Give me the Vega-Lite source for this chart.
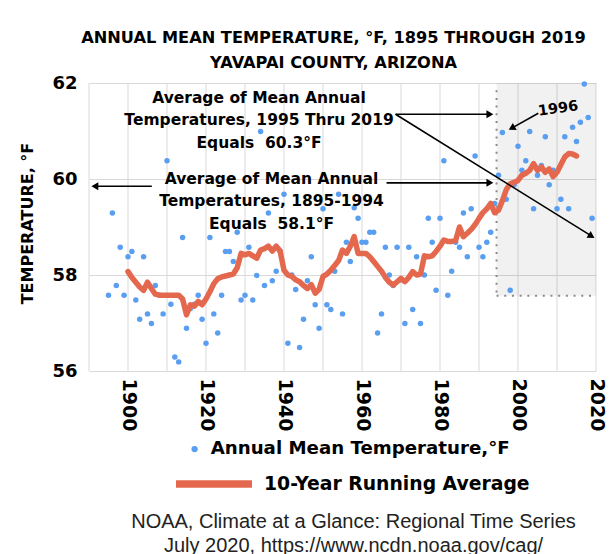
{
  "$schema": "https://vega.github.io/schema/vega-lite/v6.json",
  "width": 507,
  "height": 288,
  "autosize": {"type": "none"},
  "padding": {"left": 89, "top": 83, "right": 20, "bottom": 183},
  "background": "white",
  "data": {"values": [{}]},
  "title": {
    "text": ["ANNUAL MEAN TEMPERATURE, °F, 1895 THROUGH 2019", "YAVAPAI COUNTY, ARIZONA"],
    "font": "DejaVu Sans", "fontSize": 16.2, "fontWeight": "bold", "color": "black",
    "lineHeight": 25, "anchor": "middle", "frame": "group", "offset": 3, "dx": -9
  },
  "datasets": {
    "decades": [
      {"year": 1890}, {"year": 1900}, {"year": 1910}, {"year": 1920}, {"year": 1930}, {"year": 1940}, {"year": 1950},
      {"year": 1960}, {"year": 1970}, {"year": 1980}, {"year": 1990}, {"year": 2000}, {"year": 2010}, {"year": 2020}
    ],
    "temps": [
      {"year": 1895, "temp": 57.58}, {"year": 1896, "temp": 59.29}, {"year": 1897, "temp": 57.78}, {"year": 1898, "temp": 58.58}, {"year": 1899, "temp": 57.58},
      {"year": 1900, "temp": 58.38}, {"year": 1901, "temp": 58.49}, {"year": 1902, "temp": 57.48}, {"year": 1903, "temp": 57.08}, {"year": 1904, "temp": 58.38},
      {"year": 1905, "temp": 57.19}, {"year": 1906, "temp": 56.99}, {"year": 1907, "temp": 57.78}, {"year": 1908, "temp": 57.58}, {"year": 1909, "temp": 57.19},
      {"year": 1910, "temp": 60.38}, {"year": 1911, "temp": 57.39}, {"year": 1912, "temp": 56.29}, {"year": 1913, "temp": 56.19}, {"year": 1914, "temp": 58.78},
      {"year": 1915, "temp": 56.89}, {"year": 1916, "temp": 57.3}, {"year": 1917, "temp": 57.39}, {"year": 1918, "temp": 57.58}, {"year": 1919, "temp": 57.08},
      {"year": 1920, "temp": 56.58}, {"year": 1921, "temp": 58.78}, {"year": 1922, "temp": 57.19}, {"year": 1923, "temp": 56.79}, {"year": 1924, "temp": 57.58},
      {"year": 1925, "temp": 58.49}, {"year": 1926, "temp": 58.49}, {"year": 1927, "temp": 58.28}, {"year": 1928, "temp": 58.89}, {"year": 1929, "temp": 57.48},
      {"year": 1930, "temp": 57.58}, {"year": 1931, "temp": 58.58}, {"year": 1932, "temp": 57.48}, {"year": 1933, "temp": 57.99}, {"year": 1934, "temp": 60.99},
      {"year": 1935, "temp": 57.78}, {"year": 1936, "temp": 59.29}, {"year": 1937, "temp": 57.88}, {"year": 1938, "temp": 58.08}, {"year": 1939, "temp": 58.5},
      {"year": 1940, "temp": 59.68}, {"year": 1941, "temp": 56.58}, {"year": 1942, "temp": 58.0}, {"year": 1943, "temp": 57.7}, {"year": 1944, "temp": 56.49},
      {"year": 1945, "temp": 57.08}, {"year": 1946, "temp": 57.88}, {"year": 1947, "temp": 58.38}, {"year": 1948, "temp": 57.38}, {"year": 1949, "temp": 56.89},
      {"year": 1950, "temp": 59.38}, {"year": 1951, "temp": 57.38}, {"year": 1952, "temp": 57.28}, {"year": 1953, "temp": 58.08}, {"year": 1954, "temp": 59.68},
      {"year": 1955, "temp": 57.19}, {"year": 1956, "temp": 58.68}, {"year": 1957, "temp": 58.28}, {"year": 1958, "temp": 59.4}, {"year": 1959, "temp": 59.18},
      {"year": 1960, "temp": 58.68}, {"year": 1961, "temp": 58.68}, {"year": 1962, "temp": 58.89}, {"year": 1963, "temp": 58.89}, {"year": 1964, "temp": 56.79},
      {"year": 1965, "temp": 57.19}, {"year": 1966, "temp": 58.58}, {"year": 1967, "temp": 58.0}, {"year": 1968, "temp": 57.78}, {"year": 1969, "temp": 58.58},
      {"year": 1970, "temp": 57.9}, {"year": 1971, "temp": 56.99}, {"year": 1972, "temp": 58.58}, {"year": 1973, "temp": 57.28}, {"year": 1974, "temp": 58.38},
      {"year": 1975, "temp": 56.99}, {"year": 1976, "temp": 58.0}, {"year": 1977, "temp": 59.18}, {"year": 1978, "temp": 58.68}, {"year": 1979, "temp": 57.68},
      {"year": 1980, "temp": 59.18}, {"year": 1981, "temp": 60.38}, {"year": 1982, "temp": 57.58}, {"year": 1983, "temp": 58.08}, {"year": 1984, "temp": 58.68},
      {"year": 1985, "temp": 58.58}, {"year": 1986, "temp": 59.29}, {"year": 1987, "temp": 58.38}, {"year": 1988, "temp": 59.38}, {"year": 1989, "temp": 60.48},
      {"year": 1990, "temp": 58.58}, {"year": 1991, "temp": 58.38}, {"year": 1992, "temp": 58.68}, {"year": 1993, "temp": 58.89}, {"year": 1994, "temp": 59.49},
      {"year": 1995, "temp": 60.08}, {"year": 1996, "temp": 60.97}, {"year": 1997, "temp": 59.58}, {"year": 1998, "temp": 57.68}, {"year": 1999, "temp": 59.88},
      {"year": 2000, "temp": 60.68}, {"year": 2001, "temp": 60.18}, {"year": 2002, "temp": 60.38}, {"year": 2003, "temp": 60.99}, {"year": 2004, "temp": 59.38},
      {"year": 2005, "temp": 60.08}, {"year": 2006, "temp": 60.28}, {"year": 2007, "temp": 60.88}, {"year": 2008, "temp": 59.88}, {"year": 2009, "temp": 60.18},
      {"year": 2010, "temp": 59.38}, {"year": 2011, "temp": 59.58}, {"year": 2012, "temp": 60.88}, {"year": 2013, "temp": 59.38}, {"year": 2014, "temp": 61.08},
      {"year": 2015, "temp": 60.78}, {"year": 2016, "temp": 61.18}, {"year": 2017, "temp": 61.98}, {"year": 2018, "temp": 61.28}, {"year": 2019, "temp": 59.18}
    ],
    "avg": [
      {"year": 1900, "temp": 58.07}, {"year": 1901, "temp": 57.95}, {"year": 1902, "temp": 57.85}, {"year": 1903, "temp": 57.75}, {"year": 1904, "temp": 57.68},
      {"year": 1905, "temp": 57.85}, {"year": 1906, "temp": 57.72}, {"year": 1907, "temp": 57.6}, {"year": 1908, "temp": 57.58}, {"year": 1909, "temp": 57.58},
      {"year": 1910, "temp": 57.58}, {"year": 1911, "temp": 57.58}, {"year": 1912, "temp": 57.58}, {"year": 1913, "temp": 57.58}, {"year": 1914, "temp": 57.5},
      {"year": 1915, "temp": 57.17}, {"year": 1916, "temp": 57.38}, {"year": 1917, "temp": 57.35}, {"year": 1918, "temp": 57.45}, {"year": 1919, "temp": 57.38},
      {"year": 1920, "temp": 57.5}, {"year": 1921, "temp": 57.65}, {"year": 1922, "temp": 57.82}, {"year": 1923, "temp": 57.92}, {"year": 1924, "temp": 57.96},
      {"year": 1925, "temp": 57.98}, {"year": 1926, "temp": 58.0}, {"year": 1927, "temp": 58.02}, {"year": 1928, "temp": 58.15}, {"year": 1929, "temp": 58.45},
      {"year": 1930, "temp": 58.42}, {"year": 1931, "temp": 58.45}, {"year": 1932, "temp": 58.4}, {"year": 1933, "temp": 58.35}, {"year": 1934, "temp": 58.52},
      {"year": 1935, "temp": 58.55}, {"year": 1936, "temp": 58.6}, {"year": 1937, "temp": 58.5}, {"year": 1938, "temp": 58.6}, {"year": 1939, "temp": 58.5},
      {"year": 1940, "temp": 58.1}, {"year": 1941, "temp": 58.0}, {"year": 1942, "temp": 57.97}, {"year": 1943, "temp": 57.9}, {"year": 1944, "temp": 57.86},
      {"year": 1945, "temp": 57.78}, {"year": 1946, "temp": 57.72}, {"year": 1947, "temp": 57.8}, {"year": 1948, "temp": 57.62}, {"year": 1949, "temp": 57.7},
      {"year": 1950, "temp": 57.97}, {"year": 1951, "temp": 58.02}, {"year": 1952, "temp": 58.1}, {"year": 1953, "temp": 58.2}, {"year": 1954, "temp": 58.3},
      {"year": 1955, "temp": 58.52}, {"year": 1956, "temp": 58.45}, {"year": 1957, "temp": 58.6}, {"year": 1958, "temp": 58.8}, {"year": 1959, "temp": 58.45},
      {"year": 1960, "temp": 58.45}, {"year": 1961, "temp": 58.45}, {"year": 1962, "temp": 58.38}, {"year": 1963, "temp": 58.28}, {"year": 1964, "temp": 58.18},
      {"year": 1965, "temp": 58.08}, {"year": 1966, "temp": 57.95}, {"year": 1967, "temp": 57.85}, {"year": 1968, "temp": 57.79}, {"year": 1969, "temp": 57.86},
      {"year": 1970, "temp": 57.93}, {"year": 1971, "temp": 57.86}, {"year": 1972, "temp": 57.95}, {"year": 1973, "temp": 58.07}, {"year": 1974, "temp": 58.0},
      {"year": 1975, "temp": 58.02}, {"year": 1976, "temp": 58.4}, {"year": 1977, "temp": 58.38}, {"year": 1978, "temp": 58.4}, {"year": 1979, "temp": 58.49},
      {"year": 1980, "temp": 58.6}, {"year": 1981, "temp": 58.73}, {"year": 1982, "temp": 58.7}, {"year": 1983, "temp": 58.7}, {"year": 1984, "temp": 58.72},
      {"year": 1985, "temp": 59.0}, {"year": 1986, "temp": 58.8}, {"year": 1987, "temp": 58.87}, {"year": 1988, "temp": 58.95}, {"year": 1989, "temp": 59.05},
      {"year": 1990, "temp": 59.18}, {"year": 1991, "temp": 59.3}, {"year": 1992, "temp": 59.38}, {"year": 1993, "temp": 59.49}, {"year": 1994, "temp": 59.3},
      {"year": 1995, "temp": 59.35}, {"year": 1996, "temp": 59.55}, {"year": 1997, "temp": 59.78}, {"year": 1998, "temp": 59.9}, {"year": 1999, "temp": 59.93},
      {"year": 2000, "temp": 59.97}, {"year": 2001, "temp": 60.08}, {"year": 2002, "temp": 60.12}, {"year": 2003, "temp": 60.18}, {"year": 2004, "temp": 60.32},
      {"year": 2005, "temp": 60.18}, {"year": 2006, "temp": 60.25}, {"year": 2007, "temp": 60.14}, {"year": 2008, "temp": 60.21}, {"year": 2009, "temp": 60.05},
      {"year": 2010, "temp": 60.14}, {"year": 2011, "temp": 60.3}, {"year": 2012, "temp": 60.46}, {"year": 2013, "temp": 60.53}, {"year": 2014, "temp": 60.52},
      {"year": 2015, "temp": 60.48}
    ],
    "arrows": [
      {"x": 1906.1, "y": 59.85, "x2": 1891.5, "y2": 59.85},
      {"x": 1966.3, "y": 59.92, "x2": 1993.0, "y2": 59.92},
      {"x": 1968.6, "y": 61.35, "x2": 1993.0, "y2": 61.35},
      {"x": 1968.6, "y": 61.35, "x2": 2018.9, "y2": 58.81},
      {"x": 2005.2, "y": 61.37, "x2": 1998.4, "y2": 61.06}
    ],
    "headsRight": [
      {"x": 1992.8, "y": 59.92},
      {"x": 1992.8, "y": 61.35}
    ]
  },
  "layer": [
    {
      "data": {"name": "decades"},
      "mark": {"type": "rule", "color": "#d9d9d9", "strokeWidth": 1},
      "encoding": {
        "x": {"field": "year", "type": "quantitative", "scale": {"domain": [1890, 2020], "nice": false, "zero": false}}
      }
    },
    {
      "mark": {"type": "rect", "fill": "#000000", "opacity": 0.055},
      "encoding": {
        "x": {"datum": 1994.5, "type": "quantitative", "scale": {"domain": [1890, 2020], "nice": false, "zero": false}},
        "x2": {"datum": 2020},
        "y": {"datum": 62, "type": "quantitative", "scale": {"domain": [56, 62], "nice": false, "zero": false}},
        "y2": {"datum": 57.57}
      }
    },
    {
      "mark": {"type": "rule", "color": "#8a8a8a", "strokeWidth": 2, "strokeDash": [2, 5.7]},
      "encoding": {
        "x": {"datum": 1994.5, "type": "quantitative", "scale": {"domain": [1890, 2020], "nice": false, "zero": false}},
        "y": {"datum": 61.85, "type": "quantitative", "scale": {"domain": [56, 62], "nice": false, "zero": false}},
        "y2": {"datum": 57.57}
      }
    },
    {
      "mark": {"type": "rule", "color": "#8a8a8a", "strokeWidth": 2, "strokeDash": [2, 5.7]},
      "encoding": {
        "x": {"datum": 1994.5, "type": "quantitative", "scale": {"domain": [1890, 2020], "nice": false, "zero": false}},
        "x2": {"datum": 2020},
        "y": {"datum": 57.57, "type": "quantitative", "scale": {"domain": [56, 62], "nice": false, "zero": false}}
      }
    },
    {
      "data": {"name": "temps"},
      "mark": {"type": "point", "filled": true, "size": 30, "opacity": 1},
      "encoding": {
        "x": {"field": "year", "type": "quantitative", "scale": {"domain": [1890, 2020], "nice": false, "zero": false},
          "axis": {
            "values": [1900, 1920, 1940, 1960, 1980, 2000, 2020],
            "format": "d",
            "grid": false,
            "ticks": false, "domain": false,
            "labelAngle": 90, "labelAlign": "left", "labelBaseline": "middle",
            "labelFont": "DejaVu Sans", "labelFontWeight": "bold", "labelFontSize": 19, "labelColor": "black",
            "labelPadding": 7, "labelFlush": false, "labelOverlap": false,
            "title": ["NOAA, Climate at a Glance: Regional Time Series", "July 2020,  https://www.ncdn.noaa.gov/cag/"],
            "titleFont": "Liberation Sans", "titleFontWeight": "normal", "titleFontSize": 20, "titleColor": "#222222",
            "titleLineHeight": 24, "titleX": 264, "titleY": 150, "titleBaseline": "middle", "titleAlign": "center"
          }
        },
        "y": {"field": "temp", "type": "quantitative", "scale": {"domain": [56, 62], "nice": false, "zero": false},
          "axis": {
            "values": [56, 58, 60, 62],
            "grid": true, "gridColor": "#d9d9d9", "gridWidth": 1,
            "ticks": false, "domain": false,
            "labelFont": "DejaVu Sans", "labelFontWeight": "bold", "labelFontSize": 18, "labelColor": "black",
            "labelPadding": 12, "labelFlush": false,
            "title": "TEMPERATURE, °F",
            "titleFont": "DejaVu Sans", "titleFontWeight": "bold", "titleFontSize": 16, "titleColor": "black",
            "titleX": -62, "titleY": 140, "titleAngle": -90, "titleBaseline": "middle", "titleAlign": "center"
          }
        },
        "color": {"datum": "Annual Mean Temperature,°F", "type": "nominal", "scale": {"range": ["#5a9ef0"]},
          "legend": {"orient": "none", "legendX": 96.5, "legendY": 357, "title": null, "padding": 0,
            "labelFont": "DejaVu Sans", "labelFontWeight": "bold", "labelFontSize": 18.2, "labelColor": "black", "labelLimit": 500,
            "symbolType": "circle", "symbolSize": 40, "labelOffset": 7}
        }
      }
    },
    {
      "data": {"name": "avg"},
      "mark": {"type": "line", "strokeWidth": 5.5, "strokeCap": "round", "strokeJoin": "round"},
      "encoding": {
        "x": {"field": "year", "type": "quantitative", "scale": {"domain": [1890, 2020], "nice": false, "zero": false}},
        "y": {"field": "temp", "type": "quantitative", "scale": {"domain": [56, 62], "nice": false, "zero": false}},
        "stroke": {"datum": "10-Year Running Average", "type": "nominal", "scale": {"range": ["#e4684e"]},
          "legend": {"orient": "none", "legendX": 83, "legendY": 359, "title": null, "padding": 0,
            "labelFont": "DejaVu Sans", "labelFontWeight": "bold", "labelFontSize": 18.8, "labelColor": "black", "labelLimit": 500,
            "symbolType": "stroke", "symbolSize": 5776, "symbolStrokeWidth": 7.7, "labelOffset": 8,
            "encode": {"symbols": {"update": {"stroke": {"value": "#d63e2a"}, "strokeWidth": {"value": 7.7}}}}}
        }
      }
    },
    {
      "data": {"name": "arrows"},
      "mark": {"type": "rule", "color": "black", "strokeWidth": 1.6},
      "encoding": {
        "x": {"field": "x", "type": "quantitative", "scale": {"domain": [1890, 2020], "nice": false, "zero": false}},
        "x2": {"field": "x2"},
        "y": {"field": "y", "type": "quantitative", "scale": {"domain": [56, 62], "nice": false, "zero": false}},
        "y2": {"field": "y2"}
      }
    },
    {
      "mark": {"type": "point", "shape": "triangle-left", "filled": true, "color": "black", "size": 64, "opacity": 1},
      "encoding": {
        "x": {"datum": 1891.5, "type": "quantitative", "scale": {"domain": [1890, 2020], "nice": false, "zero": false}},
        "y": {"datum": 59.85, "type": "quantitative", "scale": {"domain": [56, 62], "nice": false, "zero": false}}
      }
    },
    {
      "data": {"name": "headsRight"},
      "mark": {"type": "point", "shape": "triangle-right", "filled": true, "color": "black", "size": 64, "opacity": 1},
      "encoding": {
        "x": {"field": "x", "type": "quantitative", "scale": {"domain": [1890, 2020], "nice": false, "zero": false}},
        "y": {"field": "y", "type": "quantitative", "scale": {"domain": [56, 62], "nice": false, "zero": false}}
      }
    },
    {
      "mark": {"type": "point", "shape": "triangle-right", "filled": true, "color": "black", "size": 64, "opacity": 1, "angle": 31.6},
      "encoding": {
        "x": {"datum": 2018.85, "type": "quantitative", "scale": {"domain": [1890, 2020], "nice": false, "zero": false}},
        "y": {"datum": 58.81, "type": "quantitative", "scale": {"domain": [56, 62], "nice": false, "zero": false}}
      }
    },
    {
      "mark": {"type": "point", "shape": "triangle-right", "filled": true, "color": "black", "size": 64, "opacity": 1, "angle": 150.9},
      "encoding": {
        "x": {"datum": 1998.4, "type": "quantitative", "scale": {"domain": [1890, 2020], "nice": false, "zero": false}},
        "y": {"datum": 61.06, "type": "quantitative", "scale": {"domain": [56, 62], "nice": false, "zero": false}}
      }
    },
    {
      "mark": {"type": "text", "text": ["Average of Mean Annual", "Temperatures, 1995 Thru 2019", "Equals\u00a0 60.3°F"],
        "font": "DejaVu Sans", "fontWeight": "bold", "fontSize": 15.5, "lineHeight": 22.7, "align": "center", "baseline": "alphabetic", "color": "black"},
      "encoding": {
        "x": {"datum": 1933.6, "type": "quantitative", "scale": {"domain": [1890, 2020], "nice": false, "zero": false}},
        "y": {"datum": 61.59, "type": "quantitative", "scale": {"domain": [56, 62], "nice": false, "zero": false}}
      }
    },
    {
      "mark": {"type": "text", "text": ["Average of Mean Annual", "Temperatures, 1895-1994", "Equals\u00a0 58.1°F"],
        "font": "DejaVu Sans", "fontWeight": "bold", "fontSize": 15.5, "lineHeight": 22.7, "align": "center", "baseline": "alphabetic", "color": "black"},
      "encoding": {
        "x": {"datum": 1936.8, "type": "quantitative", "scale": {"domain": [1890, 2020], "nice": false, "zero": false}},
        "y": {"datum": 59.9, "type": "quantitative", "scale": {"domain": [56, 62], "nice": false, "zero": false}}
      }
    },
    {
      "mark": {"type": "text", "text": "1996", "font": "DejaVu Sans", "fontWeight": "bold", "fontSize": 14.5,
        "align": "center", "baseline": "middle", "angle": -8, "color": "black"},
      "encoding": {
        "x": {"datum": 2010.3, "type": "quantitative", "scale": {"domain": [1890, 2020], "nice": false, "zero": false}},
        "y": {"datum": 61.46, "type": "quantitative", "scale": {"domain": [56, 62], "nice": false, "zero": false}}
      }
    }
  ],
  "config": {
    "view": {"stroke": null},
    "font": "DejaVu Sans"
  }
}
